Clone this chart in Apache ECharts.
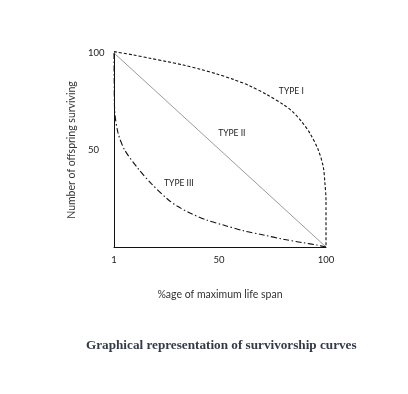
<!DOCTYPE html>
<html><head><meta charset="utf-8">
<script src="https://cdn.jsdelivr.net/npm/echarts@6/dist/echarts.min.js"></script>
<style>html,body{margin:0;padding:0;background:#fff}#c{width:408px;height:394px}</style>
</head><body><div id="c"></div>
<script>
const xTicks = [1, 50, 100];
const yTicks = [50, 100];
const type1 = [[1,100.7],[10,99],[17.8,97.3],[25.6,95.6],[33.4,93.8],[41.2,91.6],[49,89.2],[56.7,86.4],[64.5,83],[72.3,78.6],[80.1,73.4],[84.5,69.7],[88.5,64.8],[92.5,58.6],[96.4,50],[98.7,41.4],[99.5,32.8],[100,24.2],[100,0]];
const type2 = [[1,100],[100,0]];
const type3 = [[1,100],[1.1,85],[1.3,70.6],[2.9,58.8],[6,50],[12.2,40.5],[18.3,32.8],[26.2,24.5],[30.5,21.1],[36.5,17.5],[44.3,13.9],[52.1,11.3],[61.4,8.4],[70.8,6.2],[80.1,4],[89.4,2.2],[95.7,1],[100,0]];
const curveLabels = [["TYPE I",83.8,80.5],["TYPE II",56,58.8],["TYPE III",31.3,33]];

const chart = echarts.init(document.getElementById('c'), null, {renderer:'canvas'});
const lab = (name, x, y) => ({
  symbol:'circle', symbolSize:1, silent:true, itemStyle:{color:'rgba(0,0,0,0)'},
  data:[{coord:[x,y],
    label:{show:true, position:'inside', formatter:name, color:'#222', fontSize:8.5, fontFamily:'Lato'}}]
});
chart.setOption({
  animation:false,
  title:{text:'Graphical representation of survivorship curves', left:81, top:334,
    textStyle:{fontFamily:'Liberation Serif', fontWeight:'bold', fontSize:13.2, color:'#333a48'}},
  grid:{left:114, right:82, top:53, bottom:147},
  xAxis:{type:'value', min:1, max:100,
    name:'%age of maximum life span', nameLocation:'middle', nameGap:42,
    nameTextStyle:{fontFamily:'Lato', fontSize:10.5, color:'#333'},
    axisLine:{show:true, lineStyle:{color:'#111', width:1}},
    axisTick:{show:false}, splitLine:{show:false},
    axisLabel:{customValues:xTicks, margin:8, fontFamily:'Lato', fontSize:9.5, color:'#222'}},
  yAxis:{type:'value', min:0, max:100,
    name:'Number of offspring surviving', nameLocation:'middle', nameGap:36,
    nameTextStyle:{fontFamily:'Lato', fontSize:10.5, color:'#333'},
    axisLine:{show:true, lineStyle:{color:'#111', width:1}},
    axisTick:{show:false}, splitLine:{show:false},
    axisLabel:{customValues:yTicks, margin:26, align:'left', fontFamily:'Lato', fontSize:9.5, color:'#222'}},
  series:[
    {type:'line', data:type1, symbol:'none', smooth:0.3, clip:false,
      lineStyle:{color:'#111', width:1.1, type:[3,2]}, markPoint:lab(...curveLabels[0])},
    {type:'line', data:type2, symbol:'none', clip:false,
      lineStyle:{color:'#9a9a9a', width:1}, markPoint:lab(...curveLabels[1])},
    {type:'line', data:type3, symbol:'none', smooth:0.3, clip:false,
      lineStyle:{color:'#111', width:1.1, type:[6,2.5,1.5,2.5]}, markPoint:lab(...curveLabels[2])}
  ]
});
</script></body></html>
